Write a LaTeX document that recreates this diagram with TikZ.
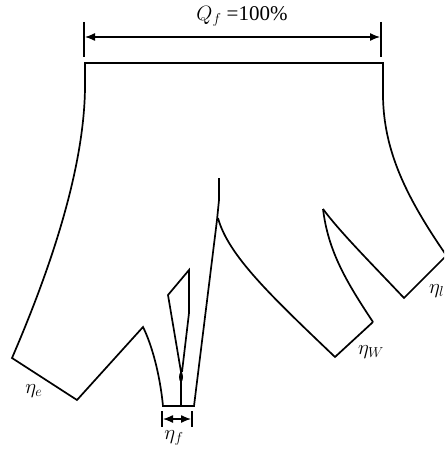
\documentclass[tikz,border=0pt]{standalone}
\usepackage{fontspec}
\setmainfont{Liberation Serif}
\usetikzlibrary{arrows.meta}
\begin{document}
\begin{tikzpicture}[x=1pt,y=-1pt,
  outline/.style={line width=1.7pt, line join=miter},
  tick/.style={line width=1.7pt},
  dimline/.style={line width=1.3pt,{Latex[length=10pt,width=8pt]}-{Latex[length=10pt,width=8pt]}},
  lbl/.style={inner sep=0pt, font=\fontsize{21}{24}\selectfont}]
\useasboundingbox (0,0) rectangle (444,452);
\begin{scope}
\clip (0,0) rectangle (444,452);
% top and left side
\draw[outline] (383,97) -- (383,63) -- (85,63) -- (85,88)
  .. controls (84,170) and (50,270) .. (12,358)
  -- (77,400) -- (143,327)
  .. controls (152,345) and (160,375) .. (163,406) -- (194,406) -- (217,220);
% central spike
\draw[outline] (217,220) -- (219,200) -- (219,178);
% central curve to eta_W notch
\draw[outline] (218,218) .. controls (228,255) and (270,295) .. (335,357)
  -- (373,322);
% right peak, left branch
\draw[outline] (373,322) .. controls (345,280) and (328,250) .. (323,209);
% right peak, right branch
\draw[outline] (323,209) .. controls (340,232) and (370,262) .. (404,298)
  -- (444,258) -- (460,242);
% outer right curve
\draw[outline] (383,97) .. controls (384,150) and (405,195) .. (444,252) -- (460,278);
% inner small wedge
\draw[outline] (181,406) -- (181,372) -- (168,295) -- (189,270) -- (189,313) -- (182,372);
\fill (181,377) ellipse (2pt and 5pt);
\end{scope}
% top dimension
\coordinate (tl1) at (84,22); \coordinate (tl2) at (84,57);
\coordinate (tr1) at (381,22); \coordinate (tr2) at (381,57);
\draw[tick] (tl1) -- (tl2);
\draw[tick] (tr1) -- (tr2);
\coordinate (da) at (85,37); \coordinate (db) at (380,37);
\draw[dimline] (da) -- (db);
\node[lbl] (qf) at (242,16) {$Q_f$ =100\%};
% eta_f dimension
\coordinate (fl1) at (162,411); \coordinate (fl2) at (162,427);
\coordinate (fr1) at (192,411); \coordinate (fr2) at (192,427);
\draw[tick] (fl1) -- (fl2);
\draw[tick] (fr1) -- (fr2);
\coordinate (fa) at (163,419); \coordinate (fb) at (191,419);
\draw[dimline] (fa) -- (fb);
% labels
\node[lbl] (etaf) at (174,438) {$\eta_f$};
\node[lbl] (etae) at (34,391) {$\eta_e$};
\node[lbl] (etaw) at (371,352) {$\eta_W$};
\begin{scope}
\clip (0,0) rectangle (444,452);
\node[lbl, anchor=west] (etal) at (429,291) {$\eta_l$};
\end{scope}
\end{tikzpicture}
\end{document}
